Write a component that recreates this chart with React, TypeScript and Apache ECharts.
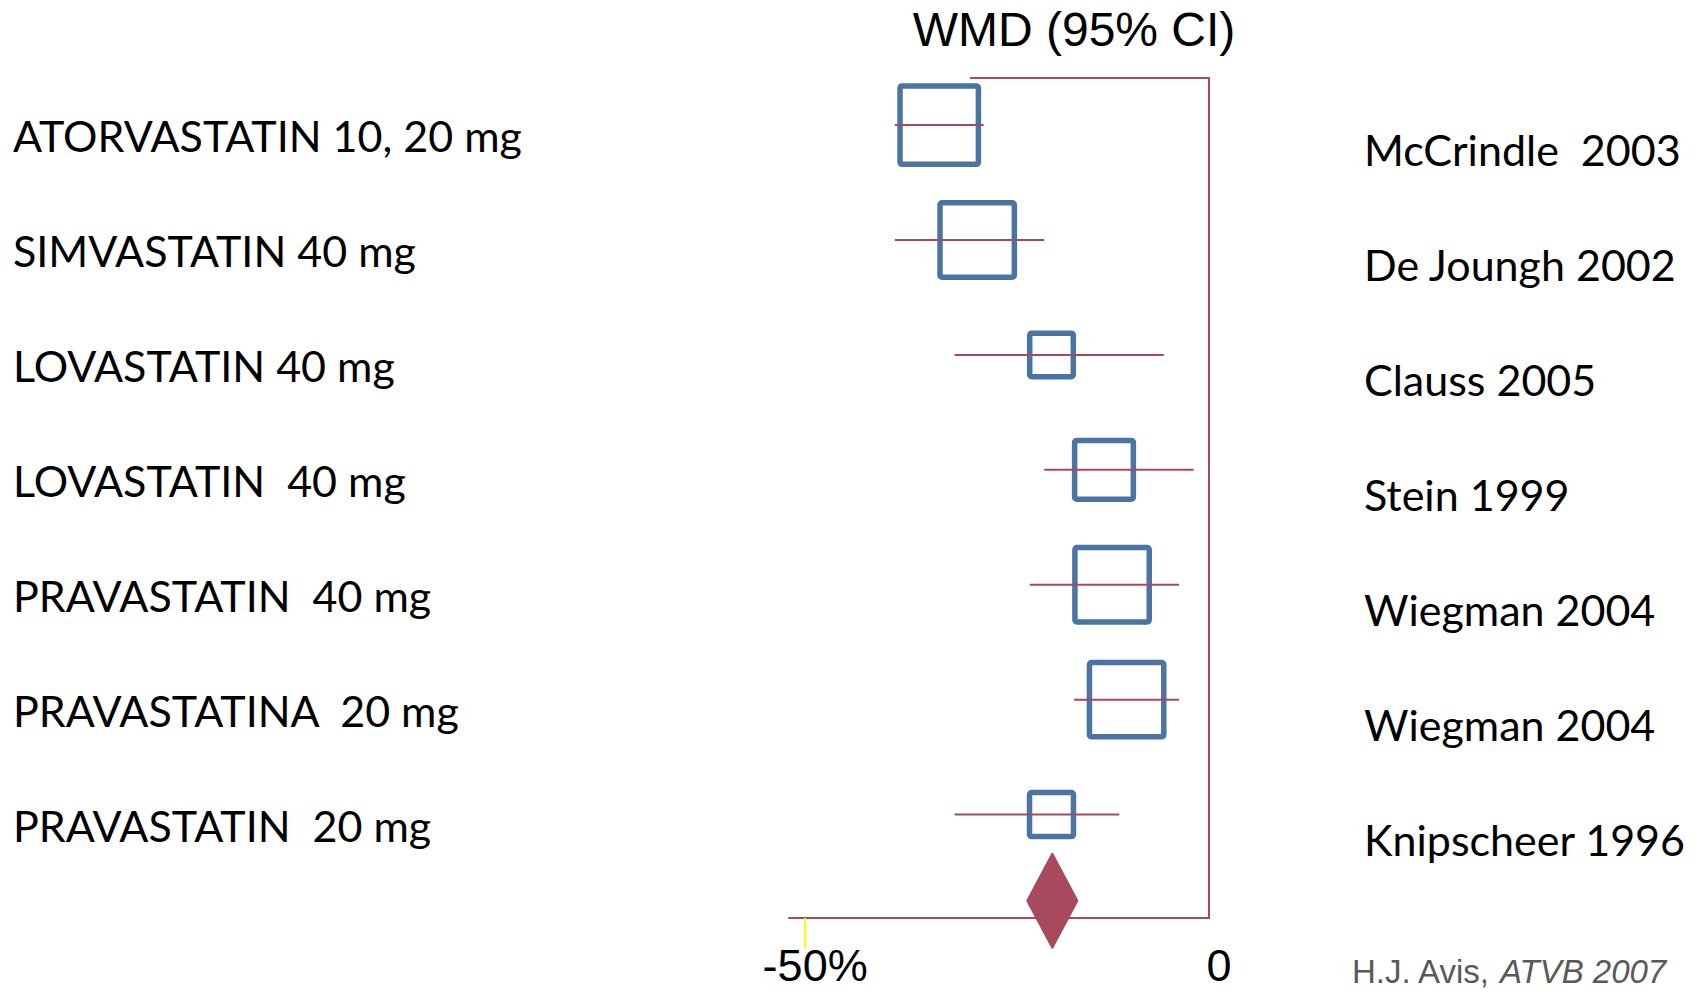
import React, { useEffect, useRef } from "react";
import * as echarts from "echarts";

// Forest plot: weighted mean difference in LDL-C, statin vs placebo
const drugLabels = [
  "ATORVASTATIN 10, 20 mg",
  "SIMVASTATIN 40 mg",
  "LOVASTATIN 40 mg",
  "LOVASTATIN  40 mg",
  "PRAVASTATIN  40 mg",
  "PRAVASTATINA  20 mg",
  "PRAVASTATIN  20 mg",
];
const studyLabels = [
  "McCrindle  2003",
  "De Joungh 2002",
  "Clauss 2005",
  "Stein 1999",
  "Wiegman 2004",
  "Wiegman 2004",
  "Knipscheer 1996",
];
// WMD (%) with 95% CI and relative study weight
const wmd = [-33.4, -28.7, -19.5, -13.0, -12.0, -10.2, -19.5];
const ciLow = [-38.9, -38.9, -31.5, -20.4, -22.2, -16.7, -31.5];
const ciHigh = [-27.9, -20.4, -5.6, -1.9, -3.7, -3.7, -11.1];
const weights = [21.0, 18.9, 6.5, 11.8, 18.9, 18.9, 6.6];
// Pooled estimate [WMD, low, high]
const pooled = [-19.4, -22.5, -16.3];
const tickValues = [-50, 0];
const tickLabels = ["-50%", "0"];

const RED = "#A8495D";
const BLUE = "#4A74A1";
const BOX_SCALE = 17.1; // px per sqrt(weight)
const DIAMOND_HALF_HEIGHT = 47;

export default function App() {
  const ref = useRef<HTMLDivElement>(null);

  useEffect(() => {
    document.body.style.margin = "0";
    const chart = echarts.init(ref.current!, null, { renderer: "svg" });
    const n = studyLabels.length;
    const pooledRow = n - 0.25;

    const studyData = wmd.map((v, i) => [i, v, ciLow[i], ciHigh[i], weights[i]]);

    const labelFont = "43px Lato";
    const graphics: any[] = [
      {
        type: "text",
        x: 1074,
        y: 29,
        style: {
          text: "WMD (95% CI)",
          font: '48px "Liberation Sans"',
          fill: "#000",
          align: "center",
          verticalAlign: "middle",
        },
      },
      {
        type: "text",
        x: 1352,
        y: 971,
        style: {
          text: "{n|H.J. Avis, }{i|ATVB 2007}",
          fill: "#595959",
          align: "left",
          verticalAlign: "middle",
          rich: {
            n: { fontFamily: "Liberation Sans", fontSize: 33, fill: "#595959", color: "#595959" },
            i: {
              fontFamily: "Liberation Sans",
              fontSize: 33,
              fontStyle: "italic",
              fill: "#595959",
              color: "#595959",
            },
          },
        },
      },
    ];
    drugLabels.forEach((t, i) => {
      graphics.push({
        type: "text",
        x: 13,
        y: 135 + 115 * i,
        style: { text: t, font: labelFont, fill: "#000", align: "left", verticalAlign: "middle" },
      });
    });
    studyLabels.forEach((t, i) => {
      graphics.push({
        type: "text",
        x: 1364,
        y: 149.5 + 115 * i,
        style: { text: t, font: labelFont, fill: "#000", align: "left", verticalAlign: "middle" },
      });
    });

    chart.setOption({
      animation: false,
      backgroundColor: "#fff",
      grid: { left: 789, right: 493, top: 78, bottom: 76 },
      xAxis: {
        type: "value",
        min: -52,
        max: 0,
        position: "bottom",
        splitLine: { show: false },
        axisLine: { show: true, onZero: false, lineStyle: { color: RED, width: 2 } },
        axisTick: {
          show: true,
          customValues: [tickValues[0]],
          length: 30,
          lineStyle: { color: "#FFFF00", width: 2 },
        },
        axisLabel: {
          show: true,
          customValues: tickValues,
          formatter: (v: number) => tickLabels[tickValues.indexOf(v)] ?? "",
          fontFamily: "Liberation Sans",
          fontSize: 45,
          lineHeight: 45,
          color: "#000",
          margin: 25,
          padding: [0, 0, 0, 20],
        },
      },
      yAxis: {
        type: "value",
        inverse: true,
        min: -0.41,
        max: 6.9,
        position: "right",
        splitLine: { show: false },
        axisLine: { show: true, onZero: false, lineStyle: { color: RED, width: 2 } },
        axisTick: { show: false },
        axisLabel: { show: false },
      },
      graphic: graphics,
      series: [
        {
          // partial top frame line
          type: "line",
          data: [
            [-29.6, -0.41],
            [0, -0.41],
          ],
          symbol: "none",
          clip: false,
          lineStyle: { color: RED, width: 2 },
          silent: true,
        },
        {
          type: "custom",
          clip: false,
          encode: { x: [1, 2, 3], y: 0 },
          data: studyData,
          renderItem: (params: any, api: any) => {
            const row = api.value(0);
            const c = api.coord([api.value(1), row]);
            const lo = api.coord([api.value(2), row]);
            const hi = api.coord([api.value(3), row]);
            const side = BOX_SCALE * Math.sqrt(api.value(4));
            return {
              type: "group",
              children: [
                {
                  type: "rect",
                  shape: { x: c[0] - side / 2, y: c[1] - side / 2, width: side, height: side, r: 2 },
                  style: { fill: "none", stroke: BLUE, lineWidth: 5.5, lineJoin: "round" },
                },
                {
                  type: "line",
                  shape: { x1: lo[0], y1: c[1], x2: hi[0], y2: c[1] },
                  style: { stroke: RED, lineWidth: 2 },
                },
              ],
            };
          },
        },
        {
          type: "custom",
          clip: false,
          encode: { x: [1, 2, 3], y: 0 },
          data: [[pooledRow, pooled[0], pooled[1], pooled[2]]],
          renderItem: (params: any, api: any) => {
            const row = api.value(0);
            const c = api.coord([api.value(1), row]);
            const lo = api.coord([api.value(2), row]);
            const hi = api.coord([api.value(3), row]);
            const h = DIAMOND_HALF_HEIGHT;
            return {
              type: "polygon",
              shape: {
                points: [
                  [lo[0], c[1]],
                  [c[0], c[1] - h],
                  [hi[0], c[1]],
                  [c[0], c[1] + h],
                ],
              },
              style: { fill: RED, stroke: RED, lineWidth: 2, lineJoin: "round" },
            };
          },
        },
      ],
    });

    return () => chart.dispose();
  }, []);

  return (
    <div
      ref={ref}
      style={{ position: "absolute", left: 0, top: 0, width: 1702, height: 994 }}
    />
  );
}
